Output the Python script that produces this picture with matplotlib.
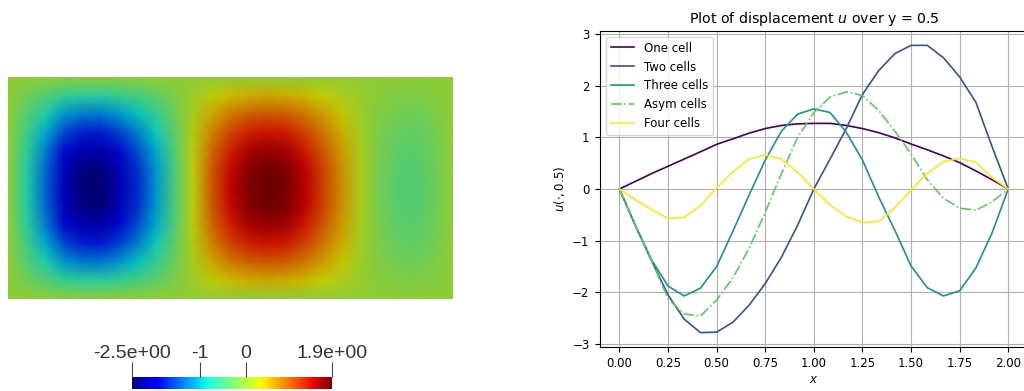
import numpy as np
import matplotlib
matplotlib.use('Agg')
import matplotlib.pyplot as plt
from matplotlib.colors import ListedColormap, Normalize
from matplotlib.cm import ScalarMappable

# pontos em x (passo 1/12) ao longo de y = 0.5
x_pts = [i / 12 for i in range(25)]

one_cell = [0, 0.15, 0.30, 0.44, 0.58, 0.72, 0.865, 0.97, 1.08, 1.17, 1.23, 1.26, 1.27,
            1.27, 1.23, 1.17, 1.09, 0.99, 0.87, 0.76, 0.64, 0.51, 0.35, 0.18, 0]
two_cells = [0, -0.72, -1.40, -2.05, -2.52, -2.78, -2.77, -2.58, -2.25, -1.83, -1.32, -0.70, 0.0,
             0.58, 1.17, 1.83, 2.29, 2.62, 2.78, 2.78, 2.54, 2.17, 1.68, 0.82, 0]
three_cells = [0, -0.72, -1.38, -1.88, -2.07, -1.92, -1.50, -0.82, -0.12, 0.56, 1.12, 1.45, 1.55,
               1.48, 1.10, 0.56, -0.15, -0.80, -1.49, -1.91, -2.07, -1.97, -1.53, -0.85, 0]
asym_cells = [0, -0.72, -1.40, -2.12, -2.42, -2.46, -2.15, -1.72, -1.15, -0.45, 0.30, 1.00, 1.48,
              1.78, 1.88, 1.81, 1.52, 1.12, 0.68, 0.18, -0.18, -0.37, -0.41, -0.25, 0]
four_cells = [0, -0.21, -0.40, -0.57, -0.55, -0.32, 0.02, 0.33, 0.58, 0.66, 0.58, 0.32, 0.0,
              -0.31, -0.53, -0.65, -0.63, -0.36, -0.02, 0.30, 0.53, 0.59, 0.52, 0.22, 0]

labels = ['One cell', 'Two cells', 'Three cells', 'Asym cells', 'Four cells']

y_pts = [i / 12 for i in range(13)]
y_profile = [0, 0.28, 0.53, 0.74, 0.89, 0.98, 1.0, 0.98, 0.89, 0.74, 0.53, 0.28, 0]

cb_ticks = [-2.5, -1, 0, 1.9]
cb_labels = ['-2.5e+00', '-1', '0', '1.9e+00']

fig = plt.figure(figsize=(10.24, 3.91), dpi=100)

# campo u (caso assimetrico) estilo paraview
field = np.outer(y_profile, asym_cells)
jet = plt.get_cmap('jet')
shaded = jet(np.linspace(0, 1, 256))
shaded[:, :3] *= 0.8
cmap_img = ListedColormap(shaded)
norm = Normalize(vmin=-2.5, vmax=1.9)

ax_img = fig.add_axes([8 / 1024, (391 - 299) / 391, 445 / 1024, 222 / 391])
X, Y = np.meshgrid(x_pts, y_pts)
ax_img.pcolormesh(X, Y, field, cmap=cmap_img, norm=norm, shading='gouraud')
ax_img.set_xlim(0, 2)
ax_img.set_ylim(0, 1)
ax_img.axis('off')

# barra de cores
cax = fig.add_axes([132 / 1024, (391 - 389) / 391, 200 / 1024, 12 / 391])
cb = fig.colorbar(ScalarMappable(norm=norm, cmap='jet'), cax=cax, orientation='horizontal')
cb.outline.set_visible(False)
cb.set_ticks(cb_ticks)
cb.set_ticklabels(cb_labels)
cax.xaxis.set_ticks_position('top')
cax.tick_params(axis='x', direction='out', length=11, width=0.8, color='#444444',
                labelsize=14, labelcolor='#333333', pad=0)
for t in cax.get_xticklabels():
    t.set_family('Liberation Sans')

# grafico da direita
ax = fig.add_axes([600 / 1024, (391 - 347) / 391, 427.7 / 1024, 316 / 391])
colors = plt.cm.viridis(np.linspace(0, 1, 5))
series = [one_cell, two_cells, three_cells, asym_cells, four_cells]
for i, (vals, lab) in enumerate(zip(series, labels)):
    ls = '-.' if lab == 'Asym cells' else '-'
    ax.plot(x_pts, vals, ls, color=colors[i], label=lab, lw=1.2)

ax.set_title('Plot of displacement $u$ over y = 0.5', fontsize=10.2)
ax.set_xlabel('$x$', fontsize=8.5, labelpad=2)
ax.set_ylabel(r'$u(\cdot, 0.5)$', fontsize=8.5)
ax.set_xticks([0, 0.25, 0.5, 0.75, 1.0, 1.25, 1.5, 1.75, 2.0])
ax.tick_params(labelsize=8.5, pad=4)
ax.grid(True, lw=0.8)
ax.legend(loc='upper left', fontsize=8.5)

plt.savefig('out.png', dpi=100)
